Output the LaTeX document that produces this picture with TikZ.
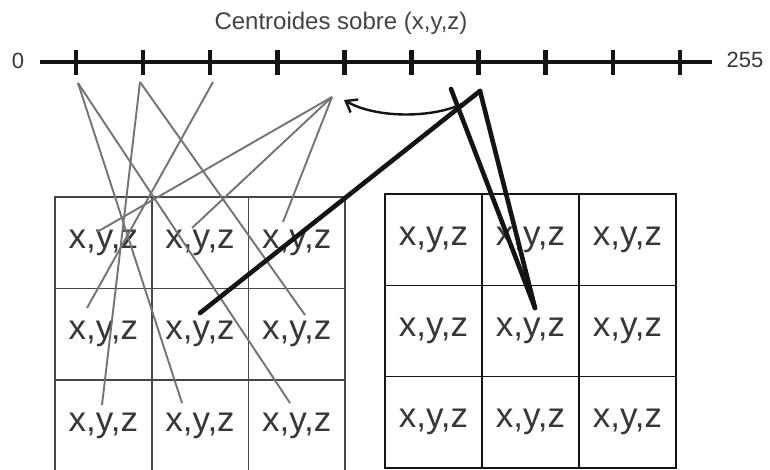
\documentclass[tikz,border=0pt]{standalone}
\usepackage{fontspec}
\setmainfont{Liberation Sans}
\usetikzlibrary{arrows.meta}
\definecolor{LineGray}{RGB}{115,115,115}
\definecolor{GridGray}{RGB}{70,70,70}
\definecolor{InkBlack}{RGB}{20,20,20}

\begin{document}
\begin{tikzpicture}[x=1pt,y=-1pt,
  cell/.style={draw=GridGray,line width=1.8pt,minimum width=96.7pt,minimum height=91.5pt,
    inner sep=0pt,font=\fontsize{35}{40}\selectfont,text=InkBlack!85},
  link/.style={LineGray,line width=1.9pt},
  heavy/.style={InkBlack,line width=4.6pt,line cap=round}]
\useasboundingbox (0,0) rectangle (770,470);
\fill[white] (0,0) rectangle (770,470);
\node[font=\fontsize{24}{28}\selectfont,text=InkBlack!80] (title) at (341,23) {Centroides sobre (x,y,z)};
\node[font=\fontsize{22}{26}\selectfont,text=InkBlack!85] (zero) at (18,61) {0};
\node[font=\fontsize{22}{26}\selectfont,text=InkBlack!85] (top) at (745,60) {255};
\coordinate (ax0) at (40,62);
\coordinate (ax1) at (712,62);
\draw[InkBlack,line width=4pt] (ax0)--(ax1);
\foreach \i in {1,...,10}
  \draw[InkBlack,line width=4.5pt] ({76+67.1*(\i-1)},50)--({76+67.1*(\i-1)},75);
% the two 3x3 blocks
\foreach \r in {1,2,3}
  \foreach \c in {1,2,3} {
    \node[cell] (L\r\c) at ({55+96.7*(\c-0.5)},{197+91.5*(\r-0.5)}) {x,y,z};
    \node[cell,draw=InkBlack,line width=1.4pt,minimum width=97pt,minimum height=91.3pt]
      (R\r\c) at ({385+97*(\c-0.5)},{194+91.3*(\r-0.5)}) {x,y,z};
  }
% centroid ends and pixel ends
\coordinate (a) at (78,83);
\coordinate (b) at (140,82);
\coordinate (c) at (213,82);
\coordinate (d) at (332,97);
\coordinate (a1) at (182,403);
\coordinate (a2) at (290,403);
\coordinate (b1) at (305,315);
\coordinate (b2) at (102,405);
\coordinate (c1) at (87,308);
\coordinate (d1) at (97,232);
\coordinate (d2) at (192,228);
\coordinate (d3) at (283,222);
\draw[link] (a)--(a1);
\draw[link] (a)--(a2);
\draw[link] (b)--(b1);
\draw[link] (b)--(b2);
\draw[link] (c)--(c1);
\draw[link] (d)--(d1);
\draw[link] (d)--(d2);
\draw[link] (d)--(d3);
\coordinate (p) at (480,91);
\coordinate (q) at (451,89);
\coordinate (m) at (535,308);
\coordinate (n) at (200,313);
\coordinate (h) at (344,100);
\draw[heavy] (q)--(m);
\draw[heavy] (p)--(m);
\draw[heavy] (p)--(n);
\draw[InkBlack,line width=2.4pt,-{Straight Barb[length=10pt,width=15pt]}]
  (p) .. controls (458,118) and (382,122) .. (h);
\end{tikzpicture}
\end{document}
